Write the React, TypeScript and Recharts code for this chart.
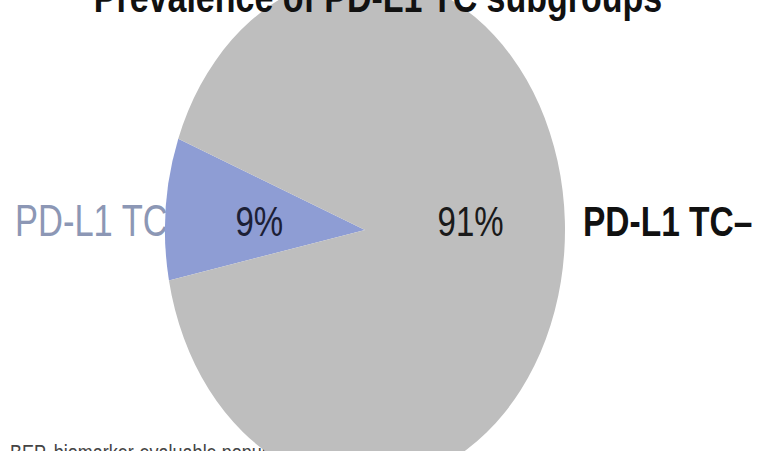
import React from 'react';
import { PieChart, Pie, Cell } from 'recharts';

// subgroup prevalence (BEP)
const subgroups = ['PD-L1 TC+', 'PD-L1 TC–'];
const prevalence = [9, 91];
const sliceColors = ['#8e9dd4', '#bebebe'];
const labelColors = ['#1c2036', '#1a1a1a'];

const titleText = 'Prevalence of PD-L1 TC subgroups';
const footnoteText = 'BEP, biomarker-evaluable population';

const pieData = subgroups.map((name, i) => ({ name, value: prevalence[i] }));

// the slide this comes from was stretched vertically
const STRETCH = 1.275;
const W = 758;
const H = 354;
const RAD = Math.PI / 180;

const renderPct = (props: any) => {
  const { cx, cy, midAngle, outerRadius, value, index } = props;
  const x = cx + outerRadius * 0.53 * Math.cos(-midAngle * RAD);
  return (
    <text
      x={x}
      y={cy + 5}
      textAnchor="middle"
      fontSize={33}
      fill={labelColors[index]}
      fontFamily="'Liberation Sans', Arial, sans-serif"
    >
      {`${value}%`}
    </text>
  );
};

const App: React.FC = () => {
  return (
    <div
      style={{
        position: 'absolute',
        left: 0,
        top: 0,
        width: W,
        height: 451,
        overflow: 'hidden',
        background: '#fff',
        fontFamily: "'Liberation Sans', Arial, sans-serif",
      }}
    >
      <div style={{ position: 'relative', width: W, height: H, transform: `scaleY(${STRETCH})`, transformOrigin: '0 0' }}>
        {/* texts that sit behind the pie */}
        <svg width={W} height={380} style={{ position: 'absolute', left: 0, top: 0, overflow: 'visible' }}>
          <text x={15} y={185} fontSize={34.5} fill="#8c97b5">
            {subgroups[0]}
          </text>
          <text x={10} y={361} fontSize={18} fill="#444">
            {footnoteText}
          </text>
        </svg>
        <div style={{ position: 'absolute', left: 0, top: 0 }}>
          <PieChart width={W} height={H} margin={{ top: 0, right: 0, bottom: 0, left: 0 }} style={{ overflow: 'visible' }}>
            <Pie
              data={pieData}
              dataKey="value"
              nameKey="name"
              cx={365}
              cy={180.4}
              outerRadius={200}
              startAngle={159}
              endAngle={519}
              stroke="none"
              labelLine={false}
              label={renderPct}
              isAnimationActive={false}
            >
              {pieData.map((d, i) => (
                <Cell key={d.name} fill={sliceColors[i]} />
              ))}
            </Pie>
          </PieChart>
        </div>
        {/* texts on top */}
        <svg width={W} height={H} style={{ position: 'absolute', left: 0, top: 0, overflow: 'visible', pointerEvents: 'none' }}>
          <text x={378} y={9.5} textAnchor="middle" fontSize={34} fontWeight="bold" fill="#111">
            {titleText}
          </text>
          <text x={583} y={185} fontSize={33.5} fontWeight="bold" fill="#111">
            {subgroups[1]}
          </text>
        </svg>
      </div>
    </div>
  );
};

export default App;
